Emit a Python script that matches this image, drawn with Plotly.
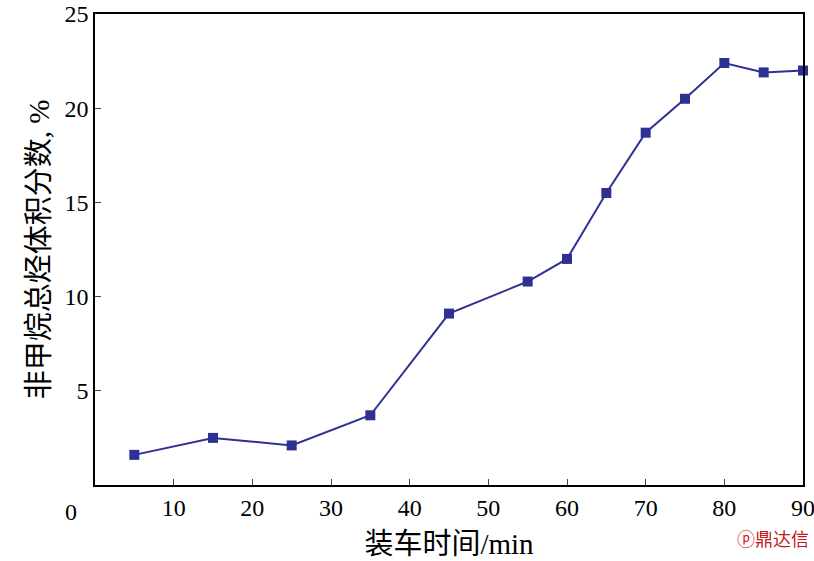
import plotly.graph_objects as go

x = [5, 15, 25, 35, 45, 55, 60, 65, 70, 75, 80, 85, 90]
y = [1.6, 2.5, 2.1, 3.7, 9.1, 10.8, 12.0, 15.5, 18.7, 20.5, 22.4, 21.9, 22.0]
xticks = [10, 20, 30, 40, 50, 60, 70, 80, 90]
yticks = [5, 10, 15, 20, 25]

fig = go.Figure(go.Scatter(x=x, y=y, mode="lines+markers", cliponaxis=False,
    line=dict(color="#2e3192", width=2),
    marker=dict(symbol="square", size=10, color="#2e3192")))
font = dict(family="Liberation Serif, Noto Sans CJK SC", size=24, color="black")
fig.update_layout(width=814, height=561, margin=dict(l=95, r=11, t=14, b=76, autoexpand=False),
    plot_bgcolor="white", paper_bgcolor="white", showlegend=False, font=font)
fig.update_xaxes(range=[0, 90], tickvals=xticks, ticks="inside", ticklen=6, automargin=False,
    showline=True, linecolor="black", linewidth=1.5, mirror=True, showgrid=False, zeroline=False,
    title=dict(text="装车时间/min", standoff=14))
fig.update_yaxes(range=[0, 25], tickvals=yticks, ticks="inside", ticklen=6, automargin=False,
    showline=True, linecolor="black", linewidth=1.5, mirror=True, showgrid=False, zeroline=False,
    title=dict(text="非甲烷总烃体积分数, %", standoff=6))
fig.add_annotation(x=0, y=0, xref="x", yref="y", text="0", showarrow=False,
    xshift=-24, yshift=-27, font=font)
fig.add_annotation(x=xticks[-1], y=0, xref="x", yref="y", text=str(xticks[-1]), showarrow=False,
    yanchor="top", yshift=-8, font=font)
fig.add_annotation(x=1, y=0, xref="paper", yref="paper", text="ⓟ鼎达信", showarrow=False,
    xanchor="right", yanchor="top", yshift=-38, xshift=8, font=dict(size=18, color="#c8161d", family="Noto Sans CJK SC"))
fig.write_html("out.html", post_script="document.body.style.margin='0';",
               config={"displayModeBar": False})
